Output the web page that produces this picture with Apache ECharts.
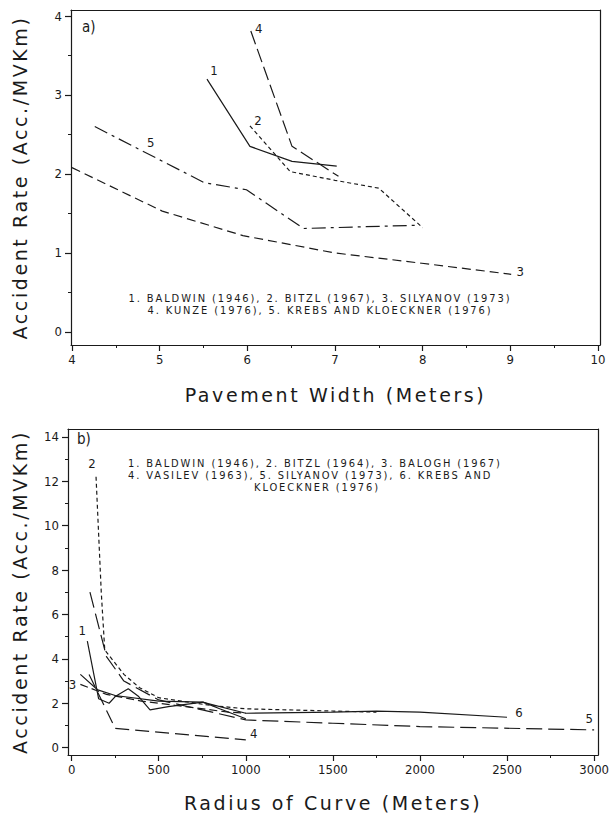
<!DOCTYPE html>
<html><head><meta charset="utf-8">
<script src="https://cdn.jsdelivr.net/npm/echarts@6/dist/echarts.min.js"></script>
<style>
html,body{margin:0;padding:0;background:#fff}
#c{width:612px;height:820px}
#c text[style*="19px"]{letter-spacing:2.6px}
#c text[style*="11px"]{letter-spacing:1.9px}
</style>
</head><body><div id="c"></div>
<script>
// ---- Panel a) Pavement width ----
const widthTicks = [4, 5, 6, 7, 8, 9, 10];
const widthMinor = [4.5, 5.5, 6.5, 7.5, 8.5, 9.5];
const rateTicksA = [0, 1, 2, 3, 4];
const rateMinorA = [0.5, 1.5, 2.5, 3.5];
const a1 = [[5.54, 3.2], [6.03, 2.35], [6.51, 2.16], [7.02, 2.1]];
const a2 = [[6.03, 2.61], [6.49, 2.03], [7.0, 1.92], [7.5, 1.82], [8.0, 1.32]];
const a3 = [[4.0, 2.08], [5.03, 1.53], [5.95, 1.22], [7.0, 1.0], [7.99, 0.87], [9.01, 0.73]];
const a4 = [[6.04, 3.81], [6.51, 2.35], [7.04, 1.97]];
const a5 = [[4.26, 2.6], [5.51, 1.89], [5.99, 1.8], [6.64, 1.31], [7.91, 1.35]];
const legendA = ['1. BALDWIN (1946), 2. BITZL (1967), 3. SILYANOV (1973)', '4. KUNZE (1976), 5. KREBS AND KLOECKNER (1976)'];

// ---- Panel b) Radius of curve ----
const radiusTicks = [0, 500, 1000, 1500, 2000, 2500, 3000];
const radiusMinor = [250, 750, 1250, 1750, 2250, 2750];
const rateTicksB = [0, 2, 4, 6, 8, 10, 12, 14];
const rateMinorB = [1, 3, 5, 7, 9, 11, 13];
const b1 = [[90, 4.8], [155, 2.2], [215, 2.0], [250, 2.3], [325, 2.65], [385, 2.3], [450, 1.7], [555, 1.85], [755, 2.05], [850, 1.75], [1000, 1.3]];
const b2 = [[140, 12.2], [170, 7.0], [190, 4.4], [300, 3.3], [390, 2.7], [500, 2.25], [800, 1.9], [1000, 1.75], [1750, 1.6]];
const b3 = [[50, 2.85], [200, 2.4], [400, 2.1], [600, 1.9], [900, 1.6], [1000, 1.55]];
const b4 = [[100, 3.3], [250, 0.87], [1000, 0.35]];
const b5 = [[105, 7.0], [200, 4.1], [300, 3.0], [500, 2.15], [750, 1.7], [1000, 1.25], [1500, 1.1], [2000, 0.95], [3000, 0.8]];
const b6 = [[50, 3.3], [150, 2.6], [250, 2.35], [500, 2.1], [750, 2.05], [1000, 1.55], [1500, 1.6], [1750, 1.65], [2000, 1.6], [2500, 1.37]];
const legendB = ['1. BALDWIN (1946), 2. BITZL (1964), 3. BALOGH (1967)', '4. VASILEV (1963), 5. SILYANOV (1973), 6. KREBS AND', 'KLOECKNER (1976)'];

const INK = '#1a1a1a';
const tickFont = '"DejaVu Sans Condensed","Liberation Sans Narrow","DejaVu Sans",sans-serif';
const nameFont = '"DejaVu Sans","Liberation Sans",sans-serif';

function mainAxis(gridIndex, min, max, ticks, name, gap, isY) {
  return {
    type: 'value', gridIndex, min, max,
    name, nameLocation: 'middle', nameGap: gap, nameRotate: isY ? 90 : 0,
    nameTextStyle: { fontFamily: nameFont, fontSize: 19, color: INK, fontWeight: 'normal' },
    axisLine: { show: true, onZero: false, lineStyle: { color: INK, width: 1.2 } },
    axisTick: { show: true, customValues: ticks, length: 6, lineStyle: { color: INK, width: 1.2 } },
    axisLabel: { show: true, customValues: ticks, formatter: v => String(v), fontFamily: tickFont, fontSize: 13, color: INK, margin: isY ? 9 : 8 },
    splitLine: { show: false }
  };
}
function minorAxis(gridIndex, min, max, ticks) {
  return {
    type: 'value', gridIndex, min, max,
    axisLine: { show: false, onZero: false },
    axisTick: { show: true, customValues: ticks, length: 3, lineStyle: { color: INK, width: 1 } },
    axisLabel: { show: false },
    splitLine: { show: false }
  };
}
function frameAxis(gridIndex, min, max, position) {
  return {
    type: 'value', gridIndex, min, max, position,
    axisLine: { show: true, onZero: false, lineStyle: { color: INK, width: 1.2 } },
    axisTick: { show: false }, axisLabel: { show: false }, splitLine: { show: false }
  };
}
function lineSeries(data, xi, yi, dash, labelIdx, labelText, offset) {
  return {
    type: 'line', xAxisIndex: xi, yAxisIndex: yi,
    symbol: 'circle', symbolSize: 1, showSymbol: true, showAllSymbol: true,
    itemStyle: { color: 'rgba(0,0,0,0)' },
    silent: true,
    lineStyle: { color: INK, width: 1.2, type: dash },
    data: data.map((p, i) => i === labelIdx ? {
      value: p,
      label: { show: true, formatter: labelText, position: 'inside', offset, fontFamily: tickFont, fontSize: 13, color: INK }
    } : { value: p }),
    label: { show: false },
    z: 3
  };
}

const XA = [3.989, 10.023], YA = [-0.165, 4.076];
const XB = [-21, 3023], YB = [-0.33, 14.35];

const chart = echarts.init(document.getElementById('c'), null, { renderer: 'svg' });
chart.setOption({
  animation: false,
  backgroundColor: '#fff',
  grid: [
    { left: 71, top: 10, width: 529, height: 335 },
    { left: 68, top: 429, width: 532, height: 326 }
  ],
  xAxis: [
    Object.assign(mainAxis(0, XA[0], XA[1], widthTicks, 'Pavement Width (Meters)', 40, false), { position: 'bottom' }),
    Object.assign(minorAxis(0, XA[0], XA[1], widthMinor), { position: 'bottom' }),
    Object.assign(mainAxis(1, XB[0], XB[1], radiusTicks, 'Radius of Curve (Meters)', 38, false), { position: 'bottom' }),
    Object.assign(minorAxis(1, XB[0], XB[1], radiusMinor), { position: 'bottom' }),
    frameAxis(0, XA[0], XA[1], 'top'),
    frameAxis(1, XB[0], XB[1], 'top')
  ],
  yAxis: [
    Object.assign(mainAxis(0, YA[0], YA[1], rateTicksA, 'Accident Rate (Acc./MVKm)', 42, true), { position: 'left' }),
    Object.assign(minorAxis(0, YA[0], YA[1], rateMinorA), { position: 'left' }),
    Object.assign(mainAxis(1, YB[0], YB[1], rateTicksB, 'Accident Rate (Acc./MVKm)', 39, true), { position: 'left' }),
    Object.assign(minorAxis(1, YB[0], YB[1], rateMinorB), { position: 'left' }),
    frameAxis(0, YA[0], YA[1], 'right'),
    frameAxis(1, YB[0], YB[1], 'right')
  ],
  series: [
    lineSeries(a1, 0, 0, 'solid', 0, '1', [7, -9]),
    lineSeries(a2, 0, 0, [4, 3], 0, '2', [8, -5]),
    lineSeries(a3, 0, 0, [9, 5], a3.length - 1, '3', [9, -3]),
    lineSeries(a4, 0, 0, [14, 5], 0, '4', [8, -3]),
    lineSeries(a5, 0, 0, [14, 5, 3, 5], 0, '5', [56, 16]),
    lineSeries(b1, 2, 2, 'solid', 0, '1', [-5, -11]),
    lineSeries(b2, 2, 2, [4, 3], 0, '2', [-4, -13]),
    lineSeries(b3, 2, 2, [8, 4], 0, '3', [-8, 0]),
    lineSeries(b4, 2, 2, [14, 6], b4.length - 1, '4', [8, -6]),
    lineSeries(b5, 2, 2, [16, 6], b5.length - 1, '5', [-5, -11]),
    lineSeries(b6, 2, 2, 'solid', b6.length - 1, '6', [12, -5])
  ],
  graphic: [
    { type: 'text', left: 82, top: 19, style: { text: 'a)', font: '15px ' + tickFont, fill: INK } },
    { type: 'text', left: 77, top: 431, style: { text: 'b)', font: '15px ' + tickFont, fill: INK } },
    { type: 'text', x: 320, y: 298, style: { text: legendA[0], font: '11px ' + tickFont, fill: INK, align: 'center', verticalAlign: 'middle' } },
    { type: 'text', x: 320, y: 310, style: { text: legendA[1], font: '11px ' + tickFont, fill: INK, align: 'center', verticalAlign: 'middle' } },
    { type: 'text', x: 128, y: 463, style: { text: legendB[0], font: '11px ' + tickFont, fill: INK, align: 'left', verticalAlign: 'middle' } },
    { type: 'text', x: 128, y: 475, style: { text: legendB[1], font: '11px ' + tickFont, fill: INK, align: 'left', verticalAlign: 'middle' } },
    { type: 'text', x: 254, y: 487, style: { text: legendB[2], font: '11px ' + tickFont, fill: INK, align: 'left', verticalAlign: 'middle' } }
  ]
});
</script>
</body></html>
